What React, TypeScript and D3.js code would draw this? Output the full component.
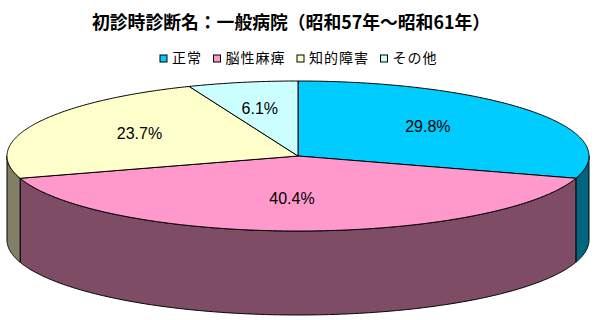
import React from "react";
import * as d3 from "d3";

const categories = ["正常", "脳性麻痺", "知的障害", "その他"];
const values = [29.8, 40.4, 23.7, 6.1];
const labels = ["29.8%", "40.4%", "23.7%", "6.1%"];
const topColors = ["#00CCFF", "#FF99CC", "#FFFFCC", "#CCFFFF"];
const sideColors = ["#006680", "#7F4C66", "#808066", "#668080"];
const title = "初診時診断名：一般病院（昭和57年～昭和61年）";

const W = 596, H = 320;
const cx = 298, cy = 156, rx = 291, ry = 75, depth = 84;

function pt(a: number, dy = 0): [number, number] {
  return [cx + rx * Math.sin(a), cy - ry * Math.cos(a) + dy];
}

function arcPts(a0: number, a1: number, dy = 0): [number, number][] {
  const n = Math.max(2, Math.ceil(Math.abs(a1 - a0) * 120));
  return d3.range(n + 1).map((i) => pt(a0 + ((a1 - a0) * i) / n, dy));
}

const line = d3.line<[number, number]>();

export default function App() {
  const arcs = d3.pie<number>().sort(null).value((d) => d)(values);

  const sides = arcs.map((a, i) => {
    const s = Math.max(a.startAngle, Math.PI / 2);
    const e = Math.min(a.endAngle, (3 * Math.PI) / 2);
    if (s >= e) return null;
    const pts = [...arcPts(s, e), ...arcPts(e, s, depth)];
    return (
      <path key={"s" + i} d={line(pts) + "Z"} fill={sideColors[i]} stroke="#000" strokeWidth={1} />
    );
  });

  const tops = arcs.map((a, i) => {
    const pts: [number, number][] = [[cx, cy], ...arcPts(a.startAngle, a.endAngle)];
    return <path key={"t" + i} d={line(pts) + "Z"} fill={topColors[i]} stroke="#000" strokeWidth={1} />;
  });

  const texts = arcs.map((a, i) => {
    const m = (a.startAngle + a.endAngle) / 2;
    const kx = 0.58;
    const ky = 0.6;
    const x = cx - 6 + rx * Math.sin(m) * kx;
    const y = cy - 3 - ry * Math.cos(m) * ky;
    return (
      <text key={"l" + i} x={x} y={y} dy="0.35em" textAnchor="middle" fontSize={16}
        fontFamily="'Liberation Sans', Arial, sans-serif" fill="#000">
        {labels[i]}
      </text>
    );
  });

  // legend
  const charW = 15;
  let lx = 160;
  const legend = categories.map((c, i) => {
    const x0 = lx;
    lx += 12 + c.length * charW + 11.5;
    return (
      <g key={"g" + i}>
        <rect x={x0} y={55} width={7} height={7} fill={topColors[i]} stroke="#000" strokeWidth={1} />
        <text x={x0 + 12} y={63} fontSize={14} letterSpacing={1}
          fontFamily="'Noto Sans CJK JP', sans-serif" fill="#000">
          {c}
        </text>
      </g>
    );
  });

  return (
    <svg width={W} height={H} style={{ position: "absolute", left: 0, top: 0, background: "#fff" }}>
      <text x={291} y={29} textAnchor="middle" fontSize={18} fontWeight="bold"
        fontFamily="'Noto Sans CJK JP', sans-serif" textLength={398} lengthAdjust="spacingAndGlyphs">
        {title}
      </text>
      {legend}
      {sides}
      {tops}
      {texts}
    </svg>
  );
}
